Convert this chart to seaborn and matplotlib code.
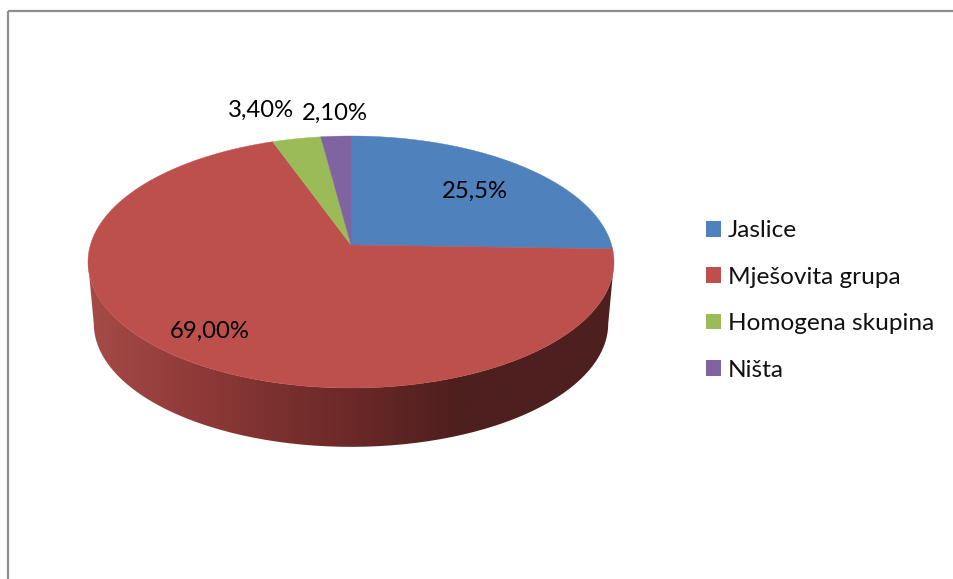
import numpy as np
import matplotlib
matplotlib.use("Agg")
import matplotlib.pyplot as plt
from matplotlib.colors import LinearSegmentedColormap
from matplotlib.patches import Patch, PathPatch, Rectangle
from matplotlib.path import Path
import seaborn as sns

categories = ["Jaslice", "Mješovita grupa", "Homogena skupina", "Ništa"]
values = [25.5, 69.0, 3.4, 2.1]
value_labels = ["25,5%", "69,00%", "3,40%", "2,10%"]
colors = ["#4f81bd", "#bd504d", "#9bbb59", "#8064a2"]

sns.set_theme(style="white")
plt.rcParams["font.family"] = ["Lato", "DejaVu Sans"]
palette = sns.color_palette(colors)

# geometry of the tilted disc, in reference pixels
CX, CY = 351.0, 245.0
HALF_W = 260.6
TILT_A, TILT_C = 123.7, 0.135
DEPTH, SHRINK = 62.0, 0.978
LABEL_POS = [(475, 191), (210, 331), (261, 110), (335, 113)]


def project(theta, scale=1.0, drop=0.0):
    """Clockwise angle from 12 o'clock -> pixel position, with perspective."""
    s, c = np.cos(theta), np.sin(theta)
    den = 1 + TILT_C * s
    return CX + scale * HALF_W * c / den, CY + drop - scale * TILT_A * s / den


fig = plt.figure(figsize=(9.54, 5.79), dpi=100)
ax = fig.add_axes([0, 0, 1, 1])
ax.set_xlim(0, 954)
ax.set_ylim(579, 0)
ax.axis("off")

# outer chart frame, only left and top fall inside the picture
ax.add_patch(Rectangle((8, 11), 1000, 700, fill=False, ec="#8e8e8e", lw=1.6))

# side wall of the front half, shaded left to right
edge = np.arcsin(TILT_C)
th = np.linspace(np.pi / 2 + edge, 3 * np.pi / 2 - edge, 200)
xt, yt = project(th)
xb, yb = project(th[::-1], SHRINK, DEPTH)
wall = PathPatch(Path(np.column_stack([np.r_[xt, xb], np.r_[yt, yb]])), fc="none", ec="none")
ax.add_patch(wall)
shade = LinearSegmentedColormap.from_list("wall", [
    (0.0, "#a64b48"), (0.21, "#8f3a38"), (0.40, "#762e2c"),
    (0.50, "#6b2928"), (0.70, "#4e1f1e"), (1.0, "#4d1f1e")])
img = ax.imshow(np.linspace(0, 1, 256)[None, :], cmap=shade, aspect="auto",
                extent=[86, 616, 448, 260], zorder=1)
img.set_clip_path(wall)
ax.set_xlim(0, 954)
ax.set_ylim(579, 0)

# top face, one wedge per value
start = 0.0
for val, col in zip(values, palette):
    stop = start + val / sum(values) * 2 * np.pi
    t = np.linspace(start, stop, 200)
    x, y = project(t)
    ax.fill(np.r_[CX, x], np.r_[CY, y], color=col, lw=0.3, zorder=2)
    start = stop

for lab, (lx, ly) in zip(value_labels, LABEL_POS):
    ax.text(lx, ly, lab, ha="center", va="center", fontsize=17.2, color="black", zorder=3)

handles = [Patch(fc=c, ec="none", label=n) for c, n in zip(palette, categories)]
ax.legend(handles=handles, loc="center left", bbox_to_anchor=(706 / 954, 1 - 300.5 / 579),
          frameon=False, fontsize=17.6, handlelength=0.61, handleheight=0.61,
          handletextpad=0.29, labelspacing=1.04, borderpad=0, borderaxespad=0,
          labelcolor="#111111")

fig.savefig("out.png", dpi=100)
